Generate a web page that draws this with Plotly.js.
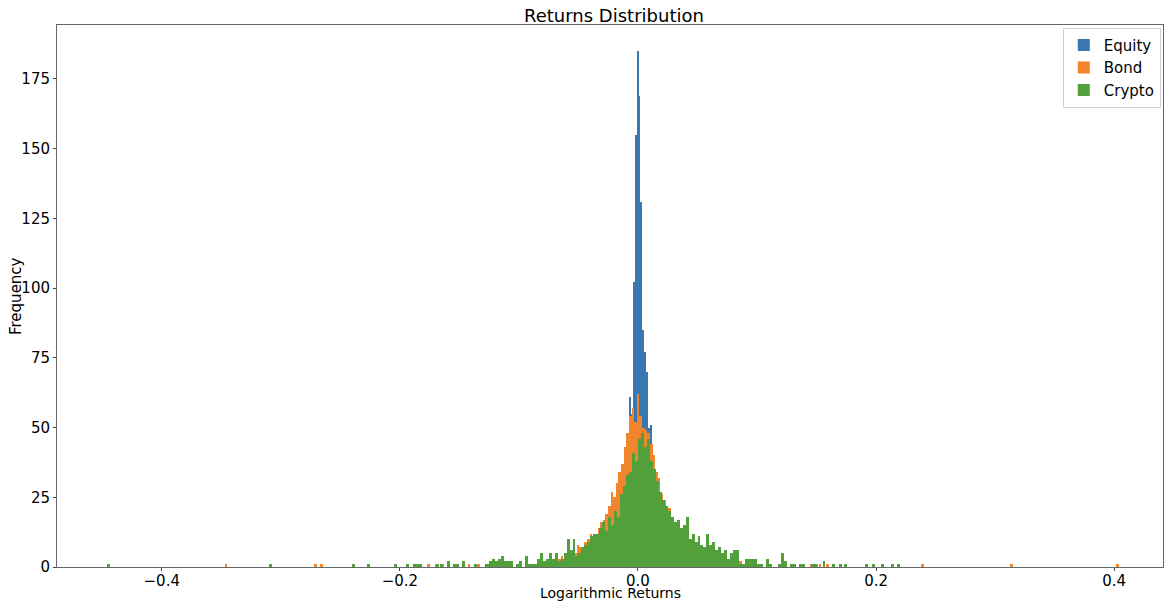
<!DOCTYPE html>
<html>
<head>
<meta charset="utf-8">
<script src="https://cdn.plot.ly/plotly-3.0.1.min.js"></script>
<style>html,body{margin:0;padding:0;background:#fff;}#chart{width:1165px;height:602px;}</style>
</head>
<body>
<div id="chart"></div>
<script>
// ---- Data ----
const seriesNames = ["Equity", "Bond", "Crypto"];

// Equity: dense bins around zero
const equityBinStart = -0.0299;
const equityBinWidth = 0.0016;
const equityCounts = [2,3,3,4,5,6,8,9,12,14,18,22,28,35,
  61,55,102,155,185,169,131,85,77,70,50,51,30,
  28,22,18,15,12,10,8,6,5,4];
const equityTailX = [-0.128, 0.088];

// Bond
const bondBinStart = -0.1;
const bondBinWidth = 0.0022;
const bondCounts = [1,0,0,1,1,0,0,1,0,1,
  2,1,3,2,1,3,4,2,5,4,
  6,5,8,7,6,9,10,12,11,12,
  14,16,17,19,22,27,25,30,34,37,
  43,48,54,57,52,62,54,50,49,48,
  44,40,34,32,26,24,20,21,18,16,
  15,13,12,11,9,8,8,7,6,6,
  5,6,5,4,5,6,5,3,3,2,
  3,2,2,1,2,1,1,0,1,0,1];
const bondTailX = [-0.346,-0.271,-0.266,-0.176,-0.169,-0.164,-0.142,-0.134,0.146,0.150,0.153,0.159,0.239,0.314,0.403];

// Crypto
const cryptoBinStart = -0.16;
const cryptoBinWidth = 0.0025;
const cryptoCounts = [2,0,1,1,0,2,0,0,0,1,
  0,0,0,1,2,3,2,3,4,2,
  2,2,0,1,2,0,4,1,1,1,
  3,5,2,3,5,3,5,2,3,5,
  10,6,10,4,5,7,8,9,11,12,
  12,14,16,13,18,15,20,18,26,29,
  33,34,41,38,46,48,43,46,38,35,
  31,27,24,22,20,18,16,17,14,15,
  18,10,12,9,11,8,7,12,8,9,
  6,7,5,6,3,5,6,6,1,1,
  3,3,3,3,1,1,0,3,1,0,
  0,1,5,2,0,1,1,0,1,1,
  0,0,1,1,0,0,2,0];
const cryptoTailX = [-0.445,-0.309,-0.239,-0.226,-0.204,-0.194,-0.188,-0.185,-0.183,-0.168,-0.165,
  0.164,0.170,0.174,0.192,0.198,0.205,0.214,0.219];

const xTickVals = [-0.4, -0.2, 0.0, 0.2, 0.4];
const xTickText = ["\u22120.4", "\u22120.2", "0.0", "0.2", "0.4"];
const yTickVals = [0, 25, 50, 75, 100, 125, 150, 175];

// ---- Build traces ----
function buildSeries(start, width, counts, tailX) {
  const x = [], y = [];
  counts.forEach((c, i) => { if (c > 0) { x.push(start + (i + 0.5) * width); y.push(c); } });
  tailX.forEach(t => { x.push(t); y.push(1); });
  return {x, y};
}
const colors = ["#3a76b0", "#f0852d", "#52a03c"];
const sets = [
  buildSeries(equityBinStart, equityBinWidth, equityCounts, equityTailX),
  buildSeries(bondBinStart, bondBinWidth, bondCounts, bondTailX),
  buildSeries(cryptoBinStart, cryptoBinWidth, cryptoCounts, cryptoTailX)
];
const widths = [equityBinWidth, bondBinWidth, cryptoBinWidth];
const traces = sets.map((s, i) => ({
  type: "bar", name: seriesNames[i], x: s.x, y: s.y,
  width: widths[i], marker: {color: colors[i], line: {width: 0}}
}));

const font = {family: "DejaVu Sans, Liberation Sans, sans-serif", color: "#000"};
const layout = {
  width: 1165, height: 602,
  margin: {l: 57, r: 2, t: 25, b: 35},
  paper_bgcolor: "#fff", plot_bgcolor: "#fff",
  barmode: "overlay", bargap: 0,
  font: Object.assign({size: 15}, font),
  title: {text: "Returns Distribution", font: Object.assign({size: 18}, font),
          x: 0.527, xanchor: "center", y: 0.974, yanchor: "middle", yref: "container"},
  xaxis: {range: [-0.488, 0.441], tickvals: xTickVals, ticktext: xTickText,
          showgrid: false, zeroline: false, showline: true, mirror: true,
          linecolor: "#666", linewidth: 1, ticks: "outside", ticklen: 3, tickcolor: "#444",
          ticklabelstandoff: -3,
          tickfont: Object.assign({size: 15}, font)},
  yaxis: {range: [0, 194.3], tickvals: yTickVals,
          showgrid: false, zeroline: false, showline: true, mirror: true,
          linecolor: "#666", linewidth: 1, ticks: "outside", ticklen: 3, tickcolor: "#444",
          tickfont: Object.assign({size: 15}, font)},
  annotations: [
    {text: "Logarithmic Returns", xref: "paper", yref: "paper", x: 0.5, y: 0,
     xanchor: "center", yanchor: "middle", yshift: -26, showarrow: false, borderpad: 0,
     font: Object.assign({size: 14}, font)},
    {text: "Frequency", xref: "paper", yref: "paper", x: 0, y: 0.5,
     xanchor: "right", yanchor: "middle", xshift: -30, textangle: -90, showarrow: false,
     font: Object.assign({size: 15}, font)}
  ],
  legend: {x: 0.998, xanchor: "right", y: 0.995, yanchor: "top",
           bgcolor: "rgba(255,255,255,0.8)", bordercolor: "#d0d0d0", borderwidth: 1,
           font: Object.assign({size: 15}, font), traceorder: "normal"},
  showlegend: true
};
Plotly.newPlot("chart", traces, layout, {displayModeBar: false, staticPlot: true});
</script>
</body>
</html>
